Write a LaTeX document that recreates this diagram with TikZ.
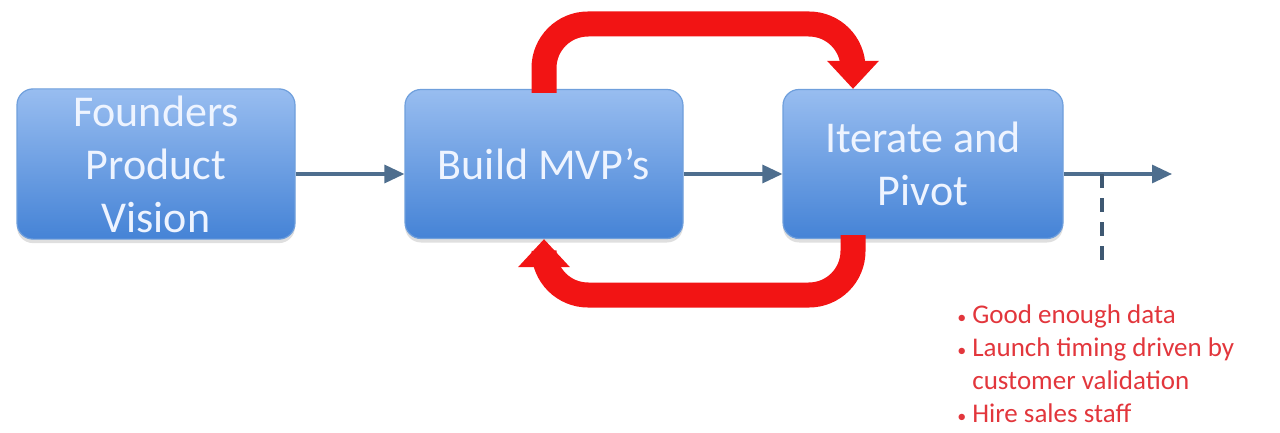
\documentclass[tikz,border=0pt]{standalone}
\usepackage{fontspec}
\setmainfont{Carlito}
\usetikzlibrary{arrows.meta,shadows,calc}
\definecolor{boxtop}{HTML}{98BDF0}
\definecolor{boxbot}{HTML}{4583D6}
\definecolor{boxline}{HTML}{6F9FDC}
\definecolor{flowc}{HTML}{4E6E8E}
\definecolor{loopred}{HTML}{F21414}
\definecolor{notered}{HTML}{E2363C}
\definecolor{boxtext}{HTML}{EEF4FF}
\tikzset{
  stagebox/.style={rectangle, rounded corners=8pt, minimum width=139pt, minimum height=74.5pt,
    top color=boxtop, bottom color=boxbot, draw=boxline, line width=0.6pt,
    drop shadow={opacity=0.25, shadow xshift=0pt, shadow yshift=-2pt},
    text=boxtext, align=center, font=\fontsize{22}{26.5}\selectfont},
  flow/.style={draw=flowc, line width=1.6pt, -{Triangle[width=9pt,length=10pt]}},
  loop/.style={draw=loopred, line width=12.5pt, rounded corners=22pt,
    -{Triangle[width=25pt,length=14pt]}},
  gate/.style={draw=flowc!80!black, line width=1.6pt, dash pattern=on 7pt off 5pt},
  notes/.style={anchor=north west, text=notered, align=left, inner sep=0pt,
    font=\fontsize{13.5}{16.5}\selectfont}
}
\begin{document}
\begin{tikzpicture}[x=0.5pt,y=-0.5pt]
\useasboundingbox (0,0) rectangle (1280,433);
\coordinate (tl) at (853,24);
\coordinate (bl) at (544,295);
\coordinate (m) at (0,174);
\coordinate (e3) at (1172,174);
\coordinate (dend) at (1102,266);
\node[stagebox] (b1) at (156,164) {Founders\\Product\\Vision};
\node[stagebox] (b2) at (544,164) {Build MVP’s};
\node[stagebox, minimum width=140pt] (b3) at (923,164) {Iterate and\\Pivot};
\draw[loop] ([yshift=-2pt]b2.north) |- (tl) -- (b3.north -| tl);
\draw[loop] ([yshift=2pt]b3.south -| tl) |- (bl) -- (b2.south);
\draw[flow] (b1.east |- m) -- (b2.west |- m);
\draw[flow] (b2.east |- m) -- (b3.west |- m);
\draw[flow] (b3.east |- m) -- (e3);
\draw[gate] (dend |- m) -- (dend);
\node[notes] (n) at (957,300) {\begin{tabular}{@{}l@{\hspace{3pt}}l@{}}
{\small•}&Good enough data\\
{\small•}&Launch timing driven by\\
 &customer validation\\
{\small•}&Hire sales staff
\end{tabular}};
\end{tikzpicture}
\end{document}
